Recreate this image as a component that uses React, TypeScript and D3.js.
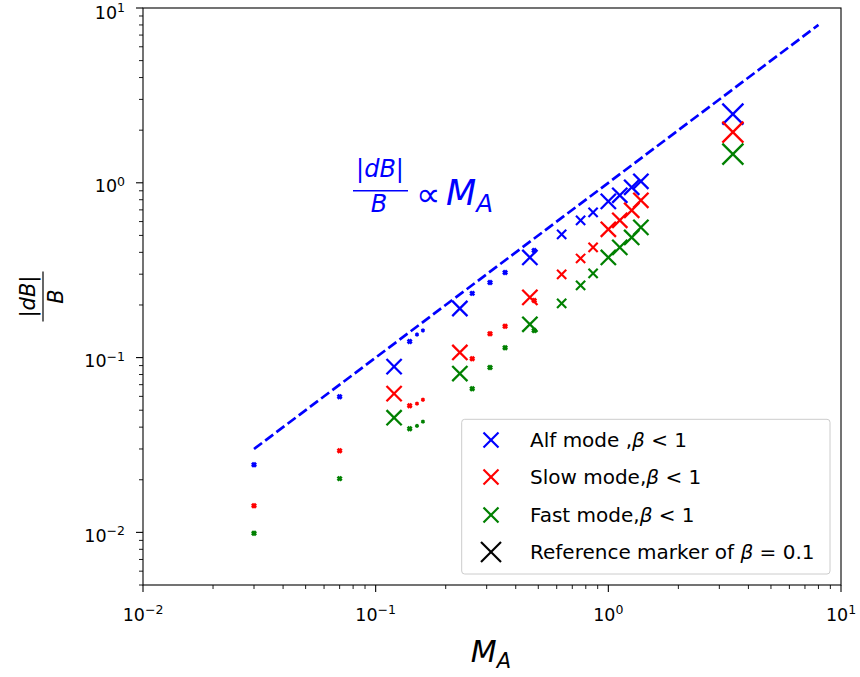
import React from "react";
import * as d3 from "d3";

// M_A values of the simulations
const maValues = [0.03, 0.07, 0.12, 0.14, 0.1505, 0.1596, 0.23, 0.26, 0.31, 0.36, 0.46, 0.48, 0.63, 0.76, 0.86, 1.0, 1.12, 1.26, 1.38, 3.43];
// |dB|/B per mode
const alfValues = [0.0244, 0.0597, 0.0888, 0.1236, 0.1355, 0.1429, 0.191, 0.233, 0.269, 0.307, 0.374, 0.41, 0.507, 0.61, 0.678, 0.783, 0.848, 0.942, 1.02, 2.47];
const slowValues = [0.0142, 0.0293, 0.0622, 0.0531, 0.0545, 0.0574, 0.107, 0.0986, 0.137, 0.151, 0.221, 0.212, 0.299, 0.369, 0.427, 0.542, 0.61, 0.696, 0.794, 1.95];
const fastValues = [0.0099, 0.0203, 0.0453, 0.0392, 0.0407, 0.043, 0.081, 0.0664, 0.0877, 0.114, 0.155, 0.143, 0.204, 0.259, 0.303, 0.374, 0.427, 0.487, 0.556, 1.46];
// marker size class per simulation (depends on beta)
const markerKinds = ["s", "s", "L", "s", "t", "t", "L", "s", "s", "s", "L", "s", "m", "m", "m", "L", "L", "L", "L", "XL"];

const lineX = [0.03, 8];
const xTickExps = [-2, -1, 0, 1];
const yTickExps = [-2, -1, 0, 1];

const seriesNames = ["Alf mode ,", "Slow mode,", "Fast mode,"];
const seriesColors = ["#0000ff", "#ff0000", "#008000"];

const FONT = "DejaVu Sans";
const L = 143, R = 841, T = 8, B = 585;

const sizes: Record<string, { h: number; w: number }> = {
  t: { h: 1.4, w: 2.2 },
  s: { h: 2.0, w: 2.8 },
  m: { h: 4.6, w: 2.1 },
  L: { h: 7.6, w: 2.3 },
  XL: { h: 10.5, w: 2.3 },
};

function XMark({ cx, cy, h, w, color }: { cx: number; cy: number; h: number; w: number; color: string }) {
  return (
    <g stroke={color} strokeWidth={w} strokeLinecap="butt">
      <line x1={cx - h} y1={cy - h} x2={cx + h} y2={cy + h} />
      <line x1={cx - h} y1={cy + h} x2={cx + h} y2={cy - h} />
    </g>
  );
}

export default function App() {
  const x = d3.scaleLog().domain([0.01, 10]).range([L, R]);
  const y = d3.scaleLog().domain([0.005, 10]).range([B, T]);

  const minorX: number[] = [];
  for (let e = -2; e < 1; e++) for (let k = 2; k <= 9; k++) minorX.push(k * Math.pow(10, e));
  const minorY: number[] = [];
  for (let e = -3; e < 1; e++)
    for (let k = 2; k <= 9; k++) {
      const v = k * Math.pow(10, e);
      if (v >= 0.005 - 1e-9 && v <= 10) minorY.push(v);
    }

  const allSeries = [alfValues, slowValues, fastValues];
  const lineGen = d3.line<number>().x((d) => x(d)).y((d) => y(d));

  const supStr = (e: number) => (e < 0 ? "\u2212" + Math.abs(e) : String(e));

  const legendRows = [440, 477, 515, 552];

  return (
    <svg width={860} height={677} style={{ position: "absolute", left: 0, top: 0, background: "#fff" }} fontFamily={FONT}>
      <rect x={0} y={0} width={860} height={677} fill="#fff" />
      {/* proportional line */}
      <path d={lineGen(lineX) || ""} fill="none" stroke="#0000ff" strokeWidth={2.7} strokeDasharray="10,4" />

      {/* markers */}
      {allSeries.map((vals, si) => (
        <g key={si}>
          {vals.map((v, i) => {
            const s = sizes[markerKinds[i]];
            return <XMark key={i} cx={x(maValues[i])} cy={y(v)} h={s.h} w={s.w} color={seriesColors[si]} />;
          })}
        </g>
      ))}

      {/* frame */}
      <rect x={L} y={T} width={R - L} height={B - T} fill="none" stroke="#000" strokeWidth={1.1} />

      {/* x ticks */}
      {xTickExps.map((e) => {
        const px = x(Math.pow(10, e));
        return (
          <g key={"xt" + e}>
            <line x1={px} x2={px} y1={B} y2={B + 7} stroke="#000" strokeWidth={1.1} />
            <text x={px} y={621} textAnchor="middle" fontSize={17.5} fill="#000">
              10<tspan dy={-7.5} fontSize={12.5}>{supStr(e)}</tspan>
            </text>
          </g>
        );
      })}
      {minorX.map((v, i) => (
        <line key={"xm" + i} x1={x(v)} x2={x(v)} y1={B} y2={B + 4} stroke="#000" strokeWidth={0.9} />
      ))}

      {/* y ticks */}
      {yTickExps.map((e) => {
        const py = y(Math.pow(10, e));
        return (
          <g key={"yt" + e}>
            <line x1={L - 7} x2={L} y1={py} y2={py} stroke="#000" strokeWidth={1.1} />
            <text x={125} y={Math.max(py + 9.5, 18.5)} textAnchor="end" fontSize={17.5} fill="#000">
              10<tspan dy={-6.5} fontSize={12.5}>{supStr(e)}</tspan>
            </text>
          </g>
        );
      })}
      {minorY.map((v, i) => (
        <line key={"ym" + i} x1={L - 4} x2={L} y1={y(v)} y2={y(v)} stroke="#000" strokeWidth={0.9} />
      ))}

      {/* x label */}
      <text x={491} y={662} textAnchor="middle" fontSize={30} fill="#000">
        <tspan fontStyle="italic">M</tspan>
        <tspan dy={6} fontSize={21} fontStyle="italic">A</tspan>
      </text>

      {/* y label: |dB| / B rotated */}
      <g transform="translate(43,296.5) rotate(-90)">
        <line x1={-25} x2={25} y1={0} y2={0} stroke="#000" strokeWidth={1.2} />
        <text x={0} y={-8} textAnchor="middle" fontSize={21} fill="#000">
          |<tspan fontStyle="italic">dB</tspan>|
        </text>
        <text x={0} y={20} textAnchor="middle" fontSize={21} fontStyle="italic" fill="#000">B</text>
      </g>

      {/* annotation */}
      <g fill="#0000ff">
        <line x1={353} x2={408} y1={190.7} y2={190.7} stroke="#0000ff" strokeWidth={1.6} />
        <text x={380} y={177} textAnchor="middle" fontSize={24}>
          |<tspan fontStyle="italic">dB</tspan>|
        </text>
        <text x={379} y={212} textAnchor="middle" fontSize={24} fontStyle="italic">B</text>
        <text x={416} y={206} fontSize={34}>{"\u221D"}</text>
        <text x={446} y={205} fontSize={35}>
          <tspan fontStyle="italic">M</tspan>
          <tspan dy={7} fontSize={24.5} fontStyle="italic">A</tspan>
        </text>
      </g>

      {/* legend */}
      <rect x={461.7} y={419.3} width={368.3} height={154.7} rx={3} ry={3} fill="#fff" fillOpacity={0.8} stroke="#cccccc" strokeWidth={1} />
      {seriesNames.map((n, i) => (
        <g key={"lg" + i}>
          <XMark cx={491} cy={legendRows[i]} h={7.5} w={2.2} color={seriesColors[i]} />
          <text x={530} y={legendRows[i] + 7} fontSize={20} fill="#000">
            {n}
            <tspan fontStyle="italic">β</tspan>
            {" < 1"}
          </text>
        </g>
      ))}
      <XMark cx={491} cy={legendRows[3]} h={10} w={2.2} color="#000" />
      <text x={530} y={legendRows[3] + 7} fontSize={20} fill="#000">
        {"Reference marker of "}
        <tspan fontStyle="italic">β</tspan>
        {" = 0.1"}
      </text>
    </svg>
  );
}
